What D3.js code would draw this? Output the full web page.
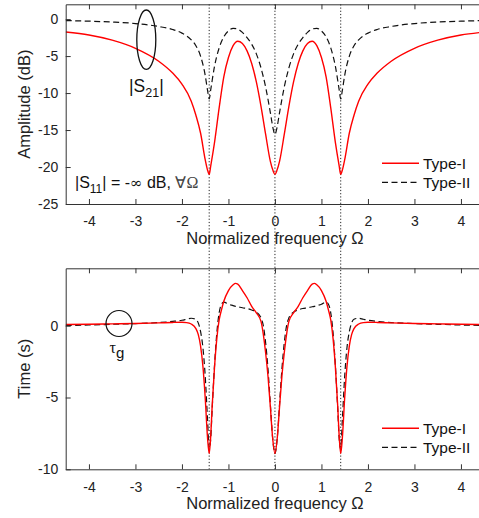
<!DOCTYPE html>
<html lang="en">
<head>
<meta charset="UTF-8">
<title>S21 amplitude and group delay</title>
<script src="https://d3js.org/d3.v7.min.js"></script>
<style>
    body { margin: 0; background: #fff; }
    svg { display: block; font-family: "Liberation Sans", Arial, sans-serif; }
    .axis path, .axis line { stroke: #333; }
    .axis text { fill: #222; font-size: 14px; }
</style>
</head>
<body>
<svg width="479" height="518"></svg>
<script>
    // normalized frequency grid for the amplitude panel
    const omegaAmp = [-4.5, -4, -3.5, -3, -2.5, -2.2, -2, -1.8, -1.7, -1.6, -1.5, -1.45, -1.414, -1.38, -1.3, -1.2, -1.1, -1, -0.9, -0.8, -0.7, -0.6, -0.5, -0.4, -0.3, -0.2, -0.1, -0.04, 0,
        0.04, 0.1, 0.2, 0.3, 0.4, 0.5, 0.6, 0.7, 0.8, 0.9, 1, 1.1, 1.2, 1.3, 1.38, 1.414, 1.45, 1.5, 1.6, 1.7, 1.8, 2, 2.2, 2.5, 3, 3.5, 4, 4.5];
    // |S21| in dB
    const ampType1 = [-1.75, -2.15, -2.85, -3.95, -5.7, -7.3, -8.8, -11.1, -13.0, -15.4, -19.0, -20.4, -21.0, -19.8, -16.7, -12.0, -7.8, -5.2, -3.6, -3.0, -3.3, -4.3, -6.0, -8.5, -11.8, -15.6, -19.2, -20.5, -21.0,
        -20.5, -19.2, -15.6, -11.8, -8.5, -6.0, -4.3, -3.3, -3.0, -3.6, -5.2, -7.8, -12.0, -16.7, -19.8, -21.0, -20.4, -19.0, -15.4, -13.0, -11.1, -8.8, -7.3, -5.7, -3.95, -2.85, -2.15, -1.75];
    const ampType2 = [-0.2, -0.28, -0.4, -0.6, -1.0, -1.4, -1.9, -2.8, -3.6, -5.0, -7.6, -9.6, -10.8, -9.5, -6.4, -3.9, -2.4, -1.6, -1.25, -1.35, -1.8, -2.5, -3.4, -4.7, -6.6, -9.2, -12.6, -14.8, -15.6,
        -14.8, -12.6, -9.2, -6.6, -4.7, -3.4, -2.5, -1.8, -1.35, -1.25, -1.6, -2.4, -3.9, -6.4, -9.5, -10.8, -9.6, -7.6, -5.0, -3.6, -2.8, -1.9, -1.4, -1.0, -0.6, -0.4, -0.28, -0.2];

    // normalized frequency grid for the group delay panel
    const omegaDelay = [-4.5, -4, -3.5, -3, -2.5, -2.2, -2, -1.9, -1.8, -1.7, -1.65, -1.6, -1.55, -1.5, -1.45, -1.414, -1.38, -1.35, -1.3, -1.25, -1.2, -1.15, -1.1, -1, -0.9, -0.85, -0.8, -0.7, -0.6, -0.5, -0.4, -0.3, -0.25, -0.2, -0.15, -0.1, -0.05, 0,
        0.05, 0.1, 0.15, 0.2, 0.25, 0.3, 0.4, 0.5, 0.6, 0.7, 0.8, 0.85, 0.9, 1, 1.1, 1.15, 1.2, 1.25, 1.3, 1.35, 1.38, 1.414, 1.45, 1.5, 1.55, 1.6, 1.65, 1.7, 1.8, 1.9, 2, 2.2, 2.5, 3, 3.5, 4, 4.5];
    // group delay in s
    const delayType1 = [0.08, 0.1, 0.13, 0.16, 0.2, 0.23, 0.24, 0.22, 0.12, -0.2, -0.6, -1.4, -2.8, -5.0, -7.8, -8.9, -7.6, -5.6, -2.9, -0.9, 0.4, 1.1, 1.7, 2.45, 2.85, 2.95, 2.9, 2.45, 1.95, 1.35, 0.9, 0.3, -0.6, -1.9, -3.5, -5.6, -7.8, -8.9,
        -7.8, -5.6, -3.5, -1.9, -0.6, 0.3, 0.9, 1.35, 1.95, 2.45, 2.9, 2.95, 2.85, 2.45, 1.7, 1.1, 0.4, -0.9, -2.9, -5.6, -7.6, -8.9, -7.8, -5.0, -2.8, -1.4, -0.6, -0.2, 0.12, 0.22, 0.24, 0.23, 0.2, 0.16, 0.13, 0.1, 0.08];
    const delayType2 = [0.02, 0.05, 0.1, 0.15, 0.22, 0.3, 0.38, 0.45, 0.52, 0.45, 0.2, -0.4, -1.5, -3.5, -6.5, -8.6, -7.8, -5.8, -2.8, -0.5, 0.9, 1.5, 1.65, 1.5, 1.4, 1.35, 1.32, 1.25, 1.2, 1.1, 0.95, 0.55, 0.0, -1.2, -3.0, -5.4, -7.8, -8.9,
        -7.8, -5.4, -3.0, -1.2, 0.0, 0.55, 0.95, 1.1, 1.2, 1.25, 1.32, 1.35, 1.4, 1.5, 1.65, 1.5, 0.9, -0.5, -2.8, -5.8, -7.8, -8.6, -6.5, -3.5, -1.5, -0.4, 0.2, 0.45, 0.52, 0.45, 0.38, 0.3, 0.22, 0.15, 0.1, 0.05, 0.02];

    const xTicks = [-4, -3, -2, -1, 0, 1, 2, 3, 4];
    const ampTicks = [0, -5, -10, -15, -20, -25];
    const delayTicks = [0, -5, -10];
    const zeroLines = [-Math.SQRT2, 0, Math.SQRT2];
    const legendNames = ["Type-I", "Type-II"];

    const svg = d3.select("svg");
    const left = 65.7, right = 484.2;

    const x = d3.scaleLinear().domain([-4.5, 4.5]).range([left, right]);
    const yAmp = d3.scaleLinear().domain([-25, 2]).range([204, 4.3]);
    const yDelay = d3.scaleLinear().domain([-10, 4]).range([469.3, 268.3]);

    // dotted lines at the transmission zeros, running through both panels
    svg.selectAll(".zero")
        .data(zeroLines)
        .enter().append("line")
        .attr("x1", d => x(d)).attr("x2", d => x(d))
        .attr("y1", yAmp.range()[1]).attr("y2", yDelay.range()[0])
        .attr("stroke", "#222")
        .attr("stroke-width", 1)
        .attr("stroke-dasharray", "1.2,2");

    function panel(id, y, ticks, omega, s1, s2, yLabel, legendY) {
        const y0 = y.range()[1], y1 = y.range()[0];
        const g = svg.append("g");

        g.append("clipPath").attr("id", id)
            .append("rect")
            .attr("x", left).attr("y", y0)
            .attr("width", right - left).attr("height", y1 - y0);

        const line = d3.line()
            .x(d => x(d[0]))
            .y(d => y(d[1]))
            .curve(d3.curveMonotoneX);

        g.append("path")
            .datum(omega.map((w, i) => [w, s2[i]]))
            .attr("d", line)
            .attr("clip-path", `url(#${id})`)
            .attr("fill", "none")
            .attr("stroke", "#111")
            .attr("stroke-width", 1.2)
            .attr("stroke-dasharray", "6,3.5");

        g.append("path")
            .datum(omega.map((w, i) => [w, s1[i]]))
            .attr("d", line)
            .attr("clip-path", `url(#${id})`)
            .attr("fill", "none")
            .attr("stroke", "#ff0000")
            .attr("stroke-width", 1.4);

        // box: bottom, top, left
        g.append("g").attr("class", "axis")
            .attr("transform", `translate(0,${y1})`)
            .call(d3.axisBottom(x).tickValues(xTicks).tickSizeInner(-5).tickSizeOuter(0).tickPadding(12.5));
        g.append("g").attr("class", "axis")
            .attr("transform", `translate(0,${y0})`)
            .call(d3.axisTop(x).tickValues(xTicks).tickSizeInner(-5).tickSizeOuter(0).tickFormat(""));
        g.append("g").attr("class", "axis")
            .attr("transform", `translate(${left},0)`)
            .call(d3.axisLeft(y).tickValues(ticks).tickSizeInner(-5).tickSizeOuter(0).tickPadding(7.5));
        g.selectAll(".axis text").text(function () { return this.textContent.replace("−", "-"); });

        g.append("text")
            .attr("x", x(0)).attr("y", y1 + 40)
            .attr("text-anchor", "middle")
            .attr("font-size", 16.5).attr("fill", "#222")
            .text("Normalized frequency Ω");

        g.append("text")
            .attr("transform", `translate(30,${(y0 + y1) / 2}) rotate(-90)`)
            .attr("text-anchor", "middle")
            .attr("font-size", 16.5).attr("fill", "#222")
            .text(yLabel);

        // legend without a frame
        const leg = g.append("g").attr("transform", `translate(382,${legendY})`);
        leg.selectAll("line")
            .data(legendNames)
            .enter().append("line")
            .attr("x1", 0).attr("x2", 37)
            .attr("y1", (d, i) => i * 19).attr("y2", (d, i) => i * 19)
            .attr("stroke", (d, i) => i === 0 ? "#ff0000" : "#111")
            .attr("stroke-width", (d, i) => i === 0 ? 1.4 : 1.2)
            .attr("stroke-dasharray", (d, i) => i === 0 ? null : "6,3.5");
        leg.selectAll("text")
            .data(legendNames)
            .enter().append("text")
            .attr("x", 41).attr("y", (d, i) => i * 19)
            .attr("dy", "0.35em")
            .attr("font-size", 15.5).attr("fill", "#111")
            .text(d => d);
        return g;
    }

    const ampPanel = panel("clipAmp", yAmp, ampTicks, omegaAmp, ampType1, ampType2, "Amplitude (dB)", 163.3);
    const delayPanel = panel("clipDelay", yDelay, delayTicks, omegaDelay, delayType1, delayType2, "Time (s)", 428.3);

    // annotations
    ampPanel.append("ellipse")
        .attr("cx", 146.3).attr("cy", 39.7).attr("rx", 9.5).attr("ry", 29.7)
        .attr("fill", "none").attr("stroke", "#111").attr("stroke-width", 1.3);

    const s21 = ampPanel.append("text").attr("x", 129).attr("y", 91.7).attr("font-size", 17.5).attr("fill", "#111");
    s21.append("tspan").text("|S");
    s21.append("tspan").attr("font-size", 12.5).attr("dy", 5).text("21");
    s21.append("tspan").attr("dy", -5).text("|");

    const s11 = ampPanel.append("text").attr("x", 75).attr("y", 188.3).attr("font-size", 16).attr("fill", "#111");
    s11.append("tspan").text("|S");
    s11.append("tspan").attr("font-size", 12).attr("dy", 5).text("11");
    s11.append("tspan").attr("dy", -5).text("| = -");
    s11.append("tspan").attr("font-family", "DejaVu Serif, serif").attr("font-size", 15).text("∞");
    s11.append("tspan").text(" dB, ");
    s11.append("tspan").attr("font-family", "Liberation Serif, serif").attr("fill", "#444").text("∀Ω");

    delayPanel.append("circle")
        .attr("cx", 119).attr("cy", 323.5).attr("r", 13)
        .attr("fill", "none").attr("stroke", "#111").attr("stroke-width", 1.2);

    const tau = delayPanel.append("text").attr("x", 109.5).attr("y", 353).attr("font-size", 16).attr("fill", "#111");
    tau.append("tspan").attr("font-family", "Liberation Serif, serif").text("τ");
    tau.append("tspan").attr("font-size", 15).attr("dy", 5).text("g");
</script>
</body>
</html>
